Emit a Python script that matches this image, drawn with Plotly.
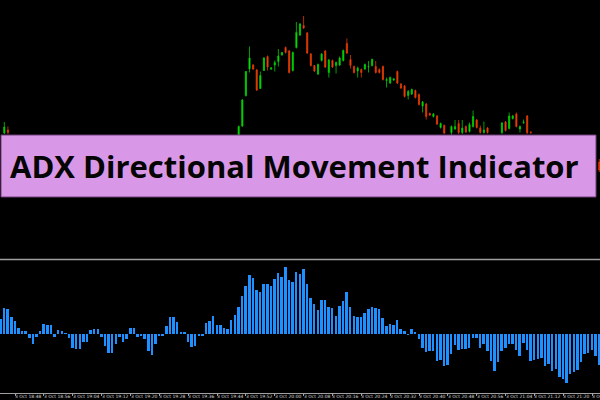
import plotly.graph_objects as go

# ---------------- data ----------------
# ADX-style histogram, one value per 1-minute bar (bar 0 = 3 Oct 18:44)
hist_values = [
    15, 26, 25, 17, 13, 6, 3, 3, -4, -10, -3, 3, 10, 9.5, 9, -2.5, 4, 3, 1, -4,
    -14, -15, -15, -8, -8, 4, 5.5, 5.5, -3, -12, -19, -19, -10, -3, -8, -5, 6, 6, -3, -2,
    -5, -17,
    -21, -10, -2, -2, 8, 17, 17, 12, 2, 2, -8, -13, -12, -2, -2, 11, 13, 18, 9, 9,
    6, 5, 14, 19, 27, 38, 48, 59, 56, 44, 42, 50, 50, 48, 55, 61, 57, 67, 54, 52,
    62, 60,
    65, 50, 36, 30, 24, 34, 34, 27, 26, 18, 28, 33, 42, 27, 18, 17, 17, 21, 25, 27,
    26, 25, 16, 8, 10, 9, 14, 5, 3, -0.7, 5, 2, -5, -14, -18, -17, -17, -27, -26, -32,
    -31,
    -20, -11, -16, -15, -15, -14, -4, -4, -14, -10, -17, -27, -37, -28, -17, -14, -10, -10, -16, -22,
    -9, -16, -27, -26, -25, -24, -32, -30, -37, -35, -43, -45, -49, -40, -38, -36, -28, -20, -19, -16,
    -22, -31,
]

# visible candles (bar index, open, high, low, close)
candle_idx = [1, 2, 66, 67, 68, 69, 70, 71, 72, 73, 74, 75, 76, 77, 78, 79, 80, 81, 82, 83,
              84, 85, 86, 87, 88, 89, 90, 91, 92, 93, 94, 95, 96, 97, 98, 99, 100, 101, 102, 103,
              104, 105, 106, 107, 108, 109, 110, 111, 112, 113, 114, 115, 116, 117, 118, 119, 120, 121, 122, 123,
              125, 126, 127, 128, 129, 130, 131, 132, 133, 134, 135, 139, 140, 141, 142, 143, 144, 145, 146, 147,
              166]
opens = [167, 170, 160, 174, 204.5, 231, 235, 230, 211.5, 229.5, 243.5, 231, 235, 238.5, 245, 252.5, 249, 229.5, 252.5, 265,
         274.5, 267, 246, 234.5, 226, 239.5, 249, 227.5, 239.5, 234.5, 235, 239.5, 256.5, 240.5, 233.5, 229, 230.5, 231, 233, 234.5,
         233.5, 230.5, 233.5, 219.5, 217, 220, 228.5, 216, 214, 204.5, 206, 209.5, 205.5, 194, 196, 186.5, 183.5, 184, 172.5, 174.5,
         167.5, 171, 176.5, 167.5, 173.5, 168.5, 173.5, 180, 172, 167.5, 172, 167.5, 178, 171.5, 181.5, 186, 171, 177.5, 184, 168,
         138]
highs = [178, 173.5, 174.5, 201, 229, 253.5, 236, 231, 228.5, 243, 244.5, 233, 239.5, 251, 248, 253.5, 250, 248.5, 278, 277,
         284, 268, 247, 235, 236.5, 247, 250, 241, 240.5, 238.5, 243.5, 250.5, 261.5, 245, 234.5, 233.5, 231.5, 236.5, 239, 241.5,
         239, 231.5, 234.5, 222.5, 223.5, 222, 229.5, 217, 215, 210, 211.5, 210.5, 206.5, 199, 197, 187.5, 187, 185, 177.5, 175.5,
         174.5, 180, 180, 180, 174.5, 177.5, 189.5, 181, 174.5, 178.5, 173, 178, 179, 187.5, 185, 187.5, 174.5, 180.5, 185, 168.5,
         141]
lows = [166, 166, 158, 173, 203.5, 227.5, 230, 209, 211, 229, 229.5, 230, 228.5, 233.5, 244.5, 246.5, 226.5, 228.5, 251.5, 264,
        271, 246, 233.5, 228, 225, 238.5, 232, 222.5, 232, 226.5, 234, 238.5, 246, 231.5, 226.5, 222.5, 222.5, 230, 227.5, 233.5,
        226.5, 226.5, 219.5, 212.5, 216, 219, 216, 211, 202.5, 200.5, 205, 201.5, 194.5, 187.5, 180.5, 184, 182.5, 175, 171.5, 166,
        165, 170, 166, 166, 167, 167.5, 172.5, 171.5, 166.5, 166.5, 166.5, 166, 168.5, 170.5, 180.5, 172.5, 167.5, 176, 166, 166.5,
        128]
closes = [173, 167.5, 173.5, 200, 228.5, 242, 231, 210, 224.5, 242, 233, 232, 237.5, 244, 247.5, 247.5, 227.5, 247.5, 267.5, 276,
          272, 247, 234.5, 229, 235.5, 246, 233, 240, 233, 237.5, 242, 249.5, 247, 234.5, 227.5, 232, 227.5, 235.5, 233.5, 240.5,
          227.5, 227.5, 220.5, 220.5, 222.5, 221, 217, 212, 203.5, 208.5, 210.5, 202.5, 195.5, 198, 183.5, 185, 186, 176, 176.5, 167,
          173.5, 173.5, 167.5, 172, 168, 175.5, 183.5, 172.5, 167.5, 170, 167.5, 177, 169.5, 184, 184, 173.5, 173.5, 178, 167.5, 167.3,
          130]

start_minute = 18 * 60 + 44  # time of bar 0
tick_labels = ["3 Oct 18:40", "3 Oct 18:48", "3 Oct 18:56", "3 Oct 19:04", "3 Oct 19:12", "3 Oct 19:20",
               "3 Oct 19:28", "3 Oct 19:36", "3 Oct 19:44", "3 Oct 19:52", "3 Oct 20:00", "3 Oct 20:08",
               "3 Oct 20:16", "3 Oct 20:24", "3 Oct 20:32", "3 Oct 20:40", "3 Oct 20:48", "3 Oct 20:56",
               "3 Oct 21:04", "3 Oct 21:12", "3 Oct 21:20", "3 Oct 21:28"]
banner_text = "ADX Directional Movement Indicator"


def label_to_bar(lbl):
    hh, mm = lbl.split()[-1].split(":")
    return int(hh) * 60 + int(mm) - start_minute


tick_pos = [label_to_bar(t) for t in tick_labels]

W, H = 600, 400
n_bars = len(hist_values)
x_lo = -0.194
x_hi = x_lo + W / 3.606

fig = go.Figure()

fig.add_trace(go.Candlestick(
    x=candle_idx, open=opens, high=highs, low=lows, close=closes,
    xaxis="x", yaxis="y",
    increasing=dict(line=dict(color="#00c800", width=0.8), fillcolor="#00ff00"),
    decreasing=dict(line=dict(color="#e03a00", width=0.8), fillcolor="#ff4500"),
    whiskerwidth=0, hoverinfo="skip", showlegend=False,
))

fig.add_trace(go.Bar(
    x=list(range(n_bars)), y=hist_values, xaxis="x2", yaxis="y2",
    marker=dict(color="#1e90ff", line=dict(width=0)), width=0.55,
    hoverinfo="skip", showlegend=False,
))

# time labels
for lbl, p in zip(tick_labels, tick_pos):
    fig.add_annotation(x=p, y=1 - 396.5 / H, xref="x2", yref="paper", text=lbl,
                       showarrow=False, xanchor="left", yanchor="middle", xshift=-1,
                       borderpad=0,
                       font=dict(family="DejaVu Sans", size=4.5, color="#d8d8d8"))

# banner
fig.add_shape(type="rect", xref="paper", yref="paper",
              x0=1 / W, x1=596 / W, y0=1 - 197 / H, y1=1 - 135 / H,
              fillcolor="#d998e7", line=dict(color="#6e3f78", width=1), layer="above")
fig.add_annotation(x=294.5 / W, y=1 - 166 / H, xref="paper", yref="paper",
                   text=banner_text, showarrow=False, xanchor="center", yanchor="middle",
                   font=dict(family="Open Sans", size=31, weight=700, color="#050505"))

# separator line between panels
fig.add_shape(type="line", xref="paper", yref="paper", x0=0, x1=1,
              y0=1 - 259.5 / H, y1=1 - 259.5 / H,
              line=dict(color="#a0a0a0", width=1.5), layer="above")

fig.update_layout(
    width=W, height=H, margin=dict(l=0, r=0, t=0, b=0),
    paper_bgcolor="#000000", plot_bgcolor="#000000",
    boxgap=0.55, bargap=0, hovermode=False,
    xaxis=dict(domain=[0, 1], range=[x_lo, x_hi], anchor="y", showgrid=False, zeroline=False,
               showticklabels=False, rangeslider=dict(visible=False), fixedrange=True),
    yaxis=dict(domain=[1 - 258 / H, 1], range=[42, 300], visible=False, fixedrange=True),
    xaxis2=dict(domain=[0, 1], range=[x_lo, x_hi], anchor="y2", showgrid=False, zeroline=False,
                showticklabels=False, showline=True, linecolor="#a0a0a0", linewidth=1,
                ticks="outside", ticklen=2, tickcolor="#a0a0a0", tickwidth=1,
                tickvals=tick_pos, fixedrange=True),
    yaxis2=dict(domain=[1 - 393 / H, 1 - 261 / H], range=[-59, 73], visible=False, fixedrange=True),
)

fig.write_html("out.html", config={"displayModeBar": False},
               post_script="document.body.style.margin='0';document.body.style.overflow='hidden';")
